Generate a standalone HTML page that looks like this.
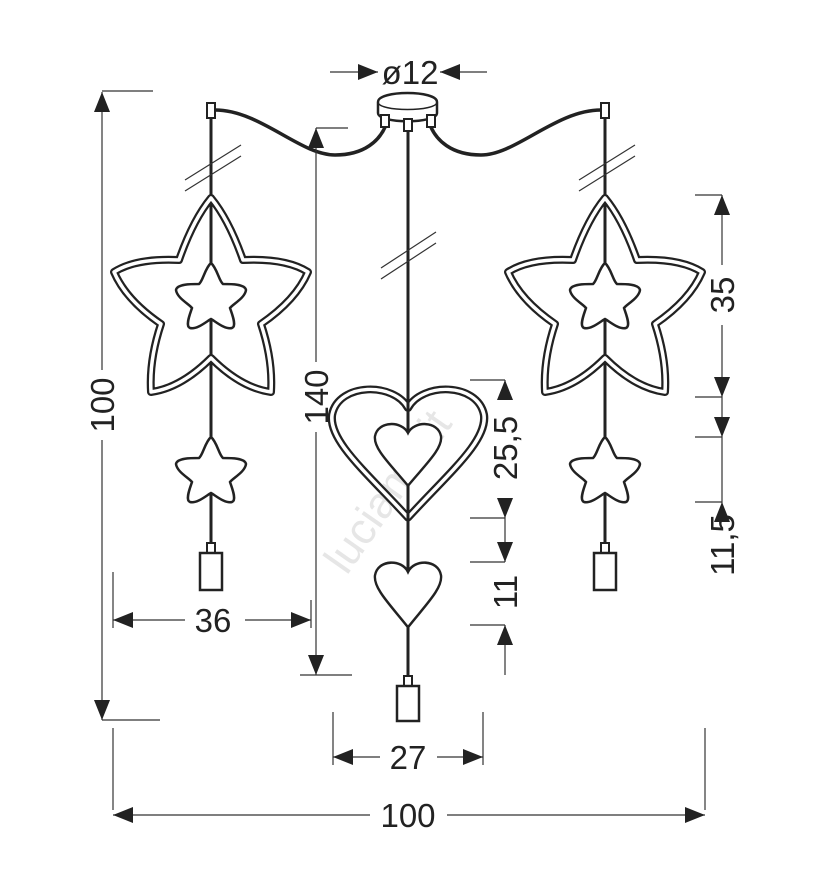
<!DOCTYPE html>
<html><head><style>html,body{margin:0;padding:0;background:#fff}svg{display:block}text{font-family:"Liberation Sans",Arial,sans-serif;font-size:33px;fill:#222}</style></head>
<body>
<svg width="828" height="886" viewBox="0 0 828 886" xmlns="http://www.w3.org/2000/svg">
<defs>
<path id="bigstar" d="M0,-102 Q18,-80 32,-40 Q75,-42 97,-28 Q85,0 50,24 Q62,60 60,92 Q30,88 0,58 Q-30,88 -60,92 Q-62,60 -50,24 Q-85,0 -97,-28 Q-75,-42 -32,-40 Q-18,-80 0,-102 Z"/>
<path id="smstar" d="M0,-33 C6,-28 8,-15 12,-12 C20,-12 34,-12 35,-6 C34,2 22,8 19,12 C21,18 26,30 21,32 C14,34 4,25 0,23 C-4,25 -14,34 -21,32 C-26,30 -21,18 -19,12 C-22,8 -34,2 -35,-6 C-34,-12 -20,-12 -12,-12 C-8,-15 -6,-28 0,-33 Z"/>
<path id="heart" d="M0,0 C10,-20 50,-20 55,5 C58,25 30,50 0,85 C-30,50 -58,25 -55,5 C-50,-20 -10,-20 0,0 Z"/>
<g id="pendant">
 <line x1="0" y1="118" x2="0" y2="545" stroke="#222" stroke-width="3"/>
 <rect x="-4" y="103" width="8" height="15" fill="#fff" stroke="#222" stroke-width="2"/>
 <line x1="-26" y1="180" x2="30" y2="145" stroke="#333" stroke-width="1.2"/>
 <line x1="-26" y1="191" x2="30" y2="156" stroke="#333" stroke-width="1.2"/>
 <g transform="translate(0,300)">
  <use href="#bigstar" fill="none" stroke="#222" stroke-width="8" stroke-linejoin="round"/>
  <use href="#bigstar" fill="none" stroke="#fff" stroke-width="3.5" stroke-linejoin="round"/>
 </g>
 <use href="#smstar" transform="translate(0,296)" fill="#fff" stroke="#222" stroke-width="2.5"/>
 <line x1="0" y1="320" x2="0" y2="356" stroke="#222" stroke-width="3"/>
 <use href="#smstar" transform="translate(0,470)" fill="#fff" stroke="#222" stroke-width="2.5"/>
 <line x1="0" y1="493" x2="0" y2="545" stroke="#222" stroke-width="3"/>
 <rect x="-4" y="543" width="8" height="10" fill="#fff" stroke="#222" stroke-width="2"/>
 <rect x="-11" y="553" width="22" height="37" fill="#fff" stroke="#222" stroke-width="2.5"/>
</g>
<path id="arr" d="M0,0 L-8,-20 L8,-20 Z" fill="#222"/>
</defs>

<text transform="translate(400,500) rotate(-55)" text-anchor="middle" style="font-size:44px;fill:#e6e6e6">luciamo.it</text>

<path d="M215,110 C260,110 300,155 335,155 C365,155 380,140 386,125" fill="none" stroke="#222" stroke-width="3.5"/>
<path d="M601,110 C556,110 516,155 481,155 C451,155 436,140 430,125" fill="none" stroke="#222" stroke-width="3.5"/>
<path d="M378,102 C378,90 437,90 437,102 L437,113 C437,124 378,124 378,113 Z" fill="#fff" stroke="#222" stroke-width="2.5"/>
<path d="M378,102 C378,112 437,112 437,102" fill="none" stroke="#222" stroke-width="1.5"/>
<rect x="381" y="115" width="8" height="12" fill="#fff" stroke="#222" stroke-width="2"/>
<rect x="427" y="115" width="8" height="12" fill="#fff" stroke="#222" stroke-width="2"/>
<rect x="404" y="119" width="8" height="12" fill="#fff" stroke="#222" stroke-width="2"/>

<use href="#pendant" transform="translate(211,0)"/>
<use href="#pendant" transform="translate(605,0)"/>

<line x1="408" y1="131" x2="408" y2="685" stroke="#222" stroke-width="3"/>
<line x1="381" y1="268" x2="436" y2="232" stroke="#333" stroke-width="1.2"/>
<line x1="381" y1="279" x2="436" y2="243" stroke="#333" stroke-width="1.2"/>
<g transform="translate(408,408) scale(1.38,1.29)">
 <use href="#heart" fill="none" stroke="#222" stroke-width="6" stroke-linejoin="round"/>
 <use href="#heart" fill="none" stroke="#fff" stroke-width="2.6" stroke-linejoin="round"/>
</g>
<line x1="408" y1="400" x2="408" y2="520" stroke="#222" stroke-width="3"/>
<use href="#heart" transform="translate(408,433) scale(0.6,0.62)" fill="#fff" stroke="#222" stroke-width="4"/>
<use href="#heart" transform="translate(408,572) scale(0.6,0.65)" fill="#fff" stroke="#222" stroke-width="4"/>
<rect x="404" y="676" width="8" height="10" fill="#fff" stroke="#222" stroke-width="2"/>
<rect x="397" y="686" width="22" height="35" fill="#fff" stroke="#222" stroke-width="2.5"/>

<g stroke="#333" stroke-width="1.2" fill="none">
 <line x1="330" y1="72" x2="378" y2="72"/><line x1="440" y1="72" x2="487" y2="72"/>
 <line x1="102" y1="92" x2="102" y2="370"/><line x1="102" y1="440" x2="102" y2="720"/>
 <line x1="102" y1="91" x2="153" y2="91"/><line x1="102" y1="720" x2="160" y2="720"/>
 <line x1="316" y1="128" x2="316" y2="362"/><line x1="316" y1="432" x2="316" y2="675"/>
 <line x1="316" y1="128" x2="348" y2="128"/><line x1="300" y1="675" x2="352" y2="675"/>
 <line x1="113" y1="620" x2="185" y2="620"/><line x1="245" y1="620" x2="311" y2="620"/>
 <line x1="113" y1="572" x2="113" y2="628"/><line x1="311" y1="600" x2="311" y2="628"/>
 <line x1="333" y1="757" x2="380" y2="757"/><line x1="437" y1="757" x2="483" y2="757"/>
 <line x1="333" y1="712" x2="333" y2="765"/><line x1="483" y1="712" x2="483" y2="765"/>
 <line x1="113" y1="815" x2="370" y2="815"/><line x1="447" y1="815" x2="705" y2="815"/>
 <line x1="113" y1="728" x2="113" y2="810"/><line x1="705" y1="728" x2="705" y2="810"/>
 <line x1="722" y1="195" x2="722" y2="265"/><line x1="722" y1="325" x2="722" y2="508"/>
 <line x1="695" y1="195" x2="722" y2="195"/><line x1="695" y1="397" x2="722" y2="397"/>
 <line x1="695" y1="437" x2="722" y2="437"/><line x1="695" y1="502" x2="722" y2="502"/>
 <line x1="505" y1="380" x2="505" y2="400"/><line x1="505" y1="500" x2="505" y2="562"/><line x1="505" y1="625" x2="505" y2="675"/>
 <line x1="470" y1="380" x2="505" y2="380"/><line x1="470" y1="518" x2="505" y2="518"/>
 <line x1="470" y1="562" x2="505" y2="562"/><line x1="470" y1="625" x2="505" y2="625"/>
</g>
<g fill="#222">
 <use href="#arr" transform="translate(378,72) rotate(-90)"/>
 <use href="#arr" transform="translate(440,72) rotate(90)"/>
 <use href="#arr" transform="translate(102,92) rotate(180)"/>
 <use href="#arr" transform="translate(102,720)"/>
 <use href="#arr" transform="translate(316,128) rotate(180)"/>
 <use href="#arr" transform="translate(316,675)"/>
 <use href="#arr" transform="translate(113,620) rotate(90)"/>
 <use href="#arr" transform="translate(311,620) rotate(-90)"/>
 <use href="#arr" transform="translate(333,757) rotate(90)"/>
 <use href="#arr" transform="translate(483,757) rotate(-90)"/>
 <use href="#arr" transform="translate(113,815) rotate(90)"/>
 <use href="#arr" transform="translate(705,815) rotate(-90)"/>
 <use href="#arr" transform="translate(722,195) rotate(180)"/>
 <use href="#arr" transform="translate(722,397)"/>
 <use href="#arr" transform="translate(722,437)"/>
 <use href="#arr" transform="translate(722,502) rotate(180)"/>
 <use href="#arr" transform="translate(505,380) rotate(180)"/>
 <use href="#arr" transform="translate(505,518)"/>
 <use href="#arr" transform="translate(505,562)"/>
 <use href="#arr" transform="translate(505,625) rotate(180)"/>
</g>
<text x="410" y="84" text-anchor="middle">ø12</text>
<text x="213" y="632" text-anchor="middle">36</text>
<text x="408" y="769" text-anchor="middle">27</text>
<text x="408" y="827" text-anchor="middle">100</text>
<text transform="translate(114,405) rotate(-90)" text-anchor="middle">100</text>
<text transform="translate(328,397) rotate(-90)" text-anchor="middle">140</text>
<text transform="translate(517,448) rotate(-90)" text-anchor="middle">25,5</text>
<text transform="translate(517,592) rotate(-90)" text-anchor="middle">11</text>
<text transform="translate(734,295) rotate(-90)" text-anchor="middle">35</text>
<text transform="translate(734,545) rotate(-90)" text-anchor="middle">11,5</text>
</svg>
</body></html>
